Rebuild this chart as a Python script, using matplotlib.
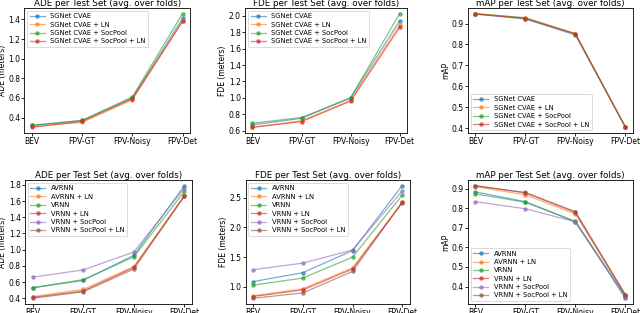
import matplotlib.pyplot as plt

cats = ["BEV", "FPV-GT", "FPV-Noisy", "FPV-Det"]

# top row: SGNet
sg_names = ["SGNet CVAE", "SGNet CVAE + LN", "SGNet CVAE + SocPool", "SGNet CVAE + SocPool + LN"]
sg_ade = [
    [0.32, 0.37, 0.60, 1.41],
    [0.31, 0.35, 0.58, 1.38],
    [0.32, 0.37, 0.61, 1.46],
    [0.30, 0.36, 0.59, 1.38],
]
sg_fde = [
    [0.67, 0.75, 1.00, 1.94],
    [0.64, 0.72, 0.97, 1.89],
    [0.69, 0.76, 1.00, 2.03],
    [0.64, 0.71, 0.96, 1.86],
]
sg_map = [
    [0.945, 0.922, 0.845, 0.404],
    [0.948, 0.928, 0.852, 0.405],
    [0.947, 0.927, 0.850, 0.405],
    [0.946, 0.924, 0.851, 0.405],
]

# bottom row: VRNN variants
vr_names = ["AVRNN", "AVRNN + LN", "VRNN", "VRNN + LN", "VRNN + SocPool", "VRNN + SocPool + LN"]
vr_ade = [
    [0.53, 0.62, 0.93, 1.79],
    [0.42, 0.51, 0.79, 1.67],
    [0.53, 0.63, 0.91, 1.72],
    [0.41, 0.49, 0.78, 1.66],
    [0.66, 0.75, 0.97, 1.76],
    [0.40, 0.48, 0.76, 1.66],
]
vr_fde = [
    [1.09, 1.24, 1.61, 2.70],
    [0.85, 0.97, 1.32, 2.42],
    [1.03, 1.15, 1.50, 2.54],
    [0.84, 0.95, 1.30, 2.41],
    [1.29, 1.40, 1.62, 2.61],
    [0.81, 0.90, 1.26, 2.42],
]
vr_map = [
    [0.883, 0.833, 0.730, 0.340],
    [0.910, 0.868, 0.770, 0.355],
    [0.873, 0.830, 0.733, 0.350],
    [0.915, 0.878, 0.778, 0.357],
    [0.833, 0.797, 0.730, 0.345],
    [0.913, 0.880, 0.782, 0.357],
]

ade_top_ticks = [0.4, 0.6, 0.8, 1.0, 1.2, 1.4]
fde_top_ticks = [0.6, 0.8, 1.0, 1.2, 1.4, 1.6, 1.8, 2.0]
ade_bot_ticks = [0.4, 0.6, 0.8, 1.0, 1.2, 1.4, 1.6, 1.8]
fde_bot_ticks = [1.0, 1.5, 2.0, 2.5]
map_ticks = [0.4, 0.5, 0.6, 0.7, 0.8, 0.9]

fs = 5.5
fig = plt.figure(figsize=(6.4, 3.13), dpi=100)


def panel(rect, names, data, title, ylabel, yticks, loc):
    ax = fig.add_axes(rect)
    for name, vals in zip(names, data):
        ax.plot(cats, vals, marker='o', markersize=2.3, linewidth=0.9, alpha=0.6, label=name)
    ax.set_yticks(yticks)
    ax.set_title(title, fontsize=fs + 0.8, pad=1.5)
    ax.set_ylabel(ylabel, fontsize=fs, labelpad=1)
    ax.tick_params(labelsize=fs, length=2, pad=1, width=0.6)
    for s in ax.spines.values():
        s.set_linewidth(0.6)
    leg = ax.legend(loc=loc, fontsize=fs - 0.6, handlelength=2.2, labelspacing=0.35,
                    borderpad=0.4, borderaxespad=0.4)
    leg.get_frame().set_linewidth(0.6)
    return ax


panel([0.038, 0.575, 0.259, 0.40], sg_names, sg_ade, "ADE per Test Set (avg. over folds)", "ADE (meters)", ade_top_ticks, "upper left")
panel([0.383, 0.575, 0.253, 0.40], sg_names, sg_fde, "FDE per Test Set (avg. over folds)", "FDE (meters)", fde_top_ticks, "upper left")
panel([0.731, 0.575, 0.258, 0.40], sg_names, sg_map, "mAP per Test Set (avg. over folds)", "mAP", map_ticks, "lower left")

panel([0.039, 0.029, 0.261, 0.396], vr_names, vr_ade, "ADE per Test Set (avg. over folds)", "ADE (meters)", ade_bot_ticks, "upper left")
panel([0.384, 0.029, 0.256, 0.396], vr_names, vr_fde, "FDE per Test Set (avg. over folds)", "FDE (meters)", fde_bot_ticks, "upper left")
panel([0.731, 0.029, 0.258, 0.396], vr_names, vr_map, "mAP per Test Set (avg. over folds)", "mAP", map_ticks, "lower left")

fig.savefig("out.png", dpi=100)
